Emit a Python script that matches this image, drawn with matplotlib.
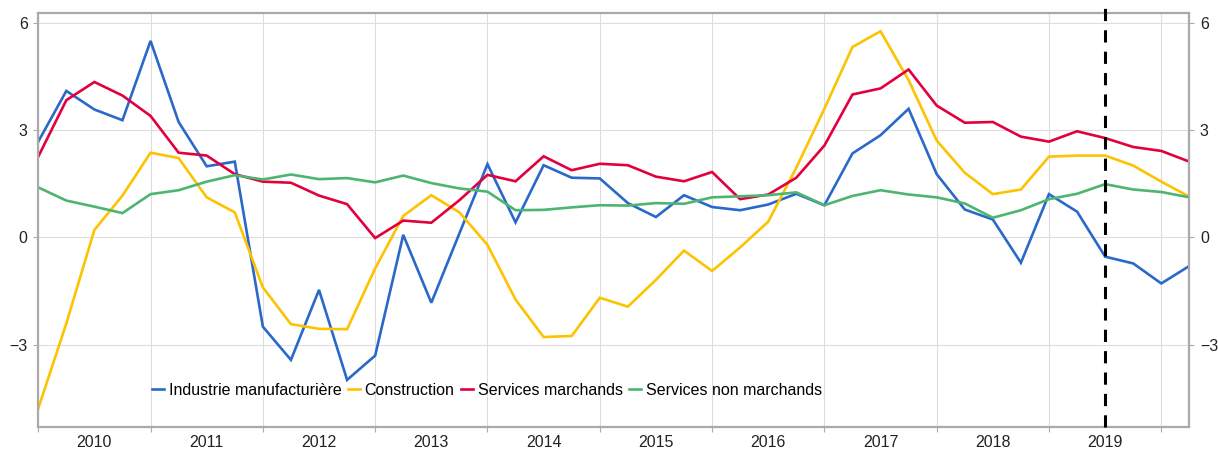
import numpy as np
import matplotlib
matplotlib.use("Agg")
import matplotlib.pyplot as plt

# quarterly series, 2010Q1 .. 2020Q2
years = ["2010", "2011", "2012", "2013", "2014", "2015", "2016", "2017", "2018", "2019"]
series_names = ["Industrie manufacturière", "Construction", "Services marchands", "Services non marchands"]

industrie = [2.68, 4.10, 3.58, 3.28, 5.50, 3.23, 1.99, 2.12, -2.50, -3.43, -1.47, -3.99, -3.31, 0.07,
             -1.83, 0.11, 2.05, 0.42, 2.02, 1.67, 1.65, 0.96, 0.57, 1.18, 0.85, 0.76, 0.92, 1.22,
             0.90, 2.35, 2.86, 3.60, 1.77, 0.78, 0.50, -0.71, 1.21, 0.72, -0.54, -0.73, -1.29, -0.80]
construction = [-4.79, -2.41, 0.21, 1.17, 2.37, 2.22, 1.12, 0.70, -1.40, -2.43, -2.56, -2.57, -0.87, 0.60,
                1.18, 0.70, -0.21, -1.74, -2.79, -2.76, -1.69, -1.94, -1.19, -0.37, -0.94, -0.28, 0.44, 1.95,
                3.60, 5.33, 5.77, 4.40, 2.71, 1.81, 1.21, 1.34, 2.26, 2.29, 2.29, 2.01, 1.56, 1.14]
marchands = [2.26, 3.84, 4.35, 3.97, 3.40, 2.37, 2.29, 1.77, 1.56, 1.53, 1.17, 0.93, -0.02, 0.47,
             0.41, 1.04, 1.75, 1.57, 2.27, 1.88, 2.06, 2.02, 1.70, 1.57, 1.83, 1.07, 1.20, 1.67,
             2.57, 4.00, 4.17, 4.70, 3.69, 3.21, 3.23, 2.82, 2.68, 2.97, 2.78, 2.53, 2.42, 2.12]
non_marchands = [1.40, 1.03, 0.86, 0.68, 1.21, 1.32, 1.56, 1.74, 1.62, 1.76, 1.63, 1.66, 1.54, 1.73,
                 1.52, 1.37, 1.28, 0.76, 0.77, 0.84, 0.90, 0.89, 0.96, 0.94, 1.12, 1.15, 1.18, 1.26,
                 0.90, 1.16, 1.32, 1.20, 1.12, 0.95, 0.55, 0.76, 1.07, 1.22, 1.49, 1.34, 1.27, 1.12]
forecast_start = 38  # 2019Q3
yticks = [-3, 0, 3, 6]

colors = ["#2a68c9", "#fdc300", "#e2003d", "#4db56f"]

plt.rcParams['font.family'] = ['Liberation Sans', 'DejaVu Sans']

fig = plt.figure(figsize=(12.18, 4.5), dpi=100)
ax = fig.add_axes([0.0314, 0.0518, 0.9451, 0.9200])

x = np.arange(len(industrie))
for vals, name, c in zip([industrie, construction, marchands, non_marchands], series_names, colors):
    ax.plot(x, vals, color=c, lw=1.9, label=name, solid_joinstyle='miter')

ax.axvline(forecast_start, ymin=0, ymax=1.02, color='black', lw=2.2, dashes=(4, 3), clip_on=False, zorder=5)

ax.set_xlim(0, len(industrie) - 1)
ax.set_ylim(-5.30, 6.29)

ax.set_yticks(yticks)
ax.set_xticks(np.arange(0, len(industrie), 4))
ax.set_xticklabels([])
ax.set_xticks(np.arange(2, 4 * len(years), 4), minor=True)
ax.set_xticklabels(years, minor=True)

ax.tick_params(axis='y', which='both', left=True, right=True, labelleft=True, labelright=True,
               length=3.6, width=0.8, color='#aaaaaa', labelsize=11.5, pad=4, labelcolor='#222222')
ax.tick_params(axis='x', which='major', length=3.6, width=0.8, color='#aaaaaa')
ax.tick_params(axis='x', which='minor', length=0, labelsize=11.5, pad=6, labelcolor='#222222')

ax.grid(True, which='major', color='#dddddd', lw=0.8)
ax.set_axisbelow(True)
for s in ax.spines.values():
    s.set_color('#aaaaaa')
    s.set_linewidth(1.6)

ax.legend(loc='center left', bbox_to_anchor=(0.0988, 0.0886), ncol=4, frameon=False,
          fontsize=11.5, handlelength=0.75, handletextpad=0.3, columnspacing=0.4,
          borderpad=0, borderaxespad=0)

fig.savefig("out.png", dpi=100)
